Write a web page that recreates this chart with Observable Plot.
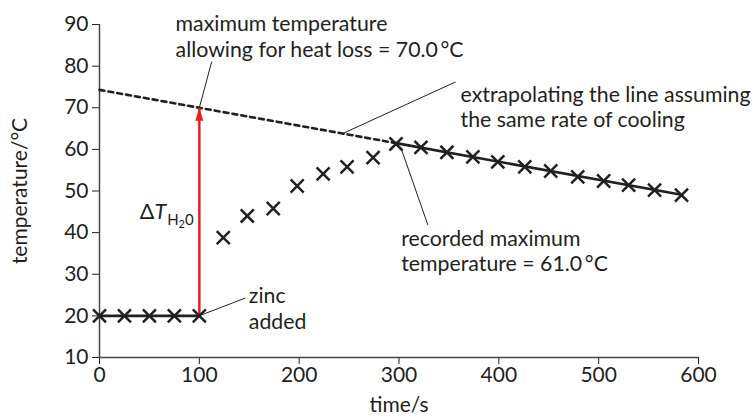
<!DOCTYPE html>
<html>
<head>
<meta charset="utf-8">
<script src="https://cdn.jsdelivr.net/npm/d3@7"></script>
<script src="https://cdn.jsdelivr.net/npm/@observablehq/plot@0.6"></script>
<style>
  html, body { margin: 0; padding: 0; background: #fff; }
</style>
</head>
<body>
<div id="chart"></div>
<script>
// measured readings (time in s, temperature in °C)
const times = [0, 25, 50, 75, 100, 124, 148, 174, 198, 224, 248, 274, 297, 322, 348, 374, 399, 426, 452, 479, 505, 530, 556, 583];
const temps = [20, 20, 20, 20, 20, 38.8, 44, 45.8, 51.2, 54.1, 55.8, 58, 61.3, 60.5, 59.3, 58.2, 57, 55.8, 54.8, 53.4, 52.4, 51.4, 50.2, 49];

// initial steady line
const baseTimes = [0, 100];
const baseTemps = [20, 20];
// extrapolated (dashed) cooling line
const extrapTimes = [0, 297];
const extrapTemps = [74.3, 61.5];
// fitted cooling line (solid)
const coolTimes = [297, 583];
const coolTemps = [61.5, 49.1];

// ΔT arrow
const arrowTime = 100;
const arrowFrom = 20;
const arrowTo = 70;

// tick values
const xTicks = [0, 100, 200, 300, 400, 500, 600];
const yTicks = [10, 20, 30, 40, 50, 60, 70, 80, 90];

// annotations
const noteTexts = [
  "maximum temperature\nallowing for heat loss = 70.0\u2009°C",
  "extrapolating the line assuming\nthe same rate of cooling",
  "recorded maximum\ntemperature = 61.0\u2009°C",
  "zinc\nadded"
];
const noteX = [76.2, 361.7, 302.2, 149.6];
const noteY = [87.3, 70.3, 35.7, 21.9];

// leader lines
const leadX1 = [100, 243.5, 302.2, 102.9];
const leadY1 = [70, 63.8, 60.2, 20.3];
const leadX2 = [112.4, 356.7, 329, 146.3];
const leadY2 = [81.1, 76.2, 41.8, 24.3];

const dtLabelX = 40.4;
const dtLabelY = 44.9;

const ink = "#231f20";
const red = "#ed1c24";

const points = times.map((t, i) => ({t, T: temps[i]}));
const base = baseTimes.map((t, i) => ({t, T: baseTemps[i]}));
const extrap = extrapTimes.map((t, i) => ({t, T: extrapTemps[i]}));
const cool = coolTimes.map((t, i) => ({t, T: coolTemps[i]}));
const notes = noteTexts.map((s, i) => ({s, t: noteX[i], T: noteY[i]}));
const leads = leadX1.map((x, i) => ({x1: x, y1: leadY1[i], x2: leadX2[i], y2: leadY2[i]}));

const chart = Plot.plot({
  width: 754,
  height: 419,
  marginLeft: 99,
  marginRight: 56,
  marginTop: 24,
  marginBottom: 62,
  style: {fontFamily: "Lato, sans-serif", fontSize: "21px", color: ink, background: "#fff"},
  x: {domain: [0, 600], ticks: xTicks, label: null, tickSize: 7, tickPadding: 3},
  y: {domain: [10, 90], ticks: yTicks, label: null, tickSize: 7, tickPadding: 4},
  marks: [
    Plot.ruleY([10], {stroke: "#444", strokeWidth: 1.5}),
    Plot.ruleX([0], {stroke: "#444", strokeWidth: 1.5}),
    Plot.line(extrap, {x: "t", y: "T", stroke: ink, strokeWidth: 2.6, strokeDasharray: "5,4"}),
    Plot.line(cool, {x: "t", y: "T", stroke: ink, strokeWidth: 2.6}),
    Plot.line(base, {x: "t", y: "T", stroke: ink, strokeWidth: 2.6}),
    Plot.link([{x: arrowTime, y1: arrowFrom, y2: arrowTo}], {x: "x", y1: "y1", y2: "y2", stroke: red, strokeWidth: 2.5}),
    Plot.vector([{x: arrowTime, y: arrowTo}], {x: "x", y: "y", length: 13, rotate: 0, shape: "spike", anchor: "end", r: 4, fill: red, stroke: "none"}),
    Plot.dot(points, {x: "t", y: "T", symbol: "times", r: 6, stroke: ink, strokeWidth: 2.5}),
    Plot.link(leads, {x1: "x1", y1: "y1", x2: "x2", y2: "y2", stroke: ink, strokeWidth: 1}),
    Plot.text(notes, {x: "t", y: "T", text: "s", textAnchor: "start", lineAnchor: "middle", lineHeight: 1.2, fontSize: 21.3, fill: ink}),
    Plot.text(["ΔT"], {x: () => dtLabelX, y: () => dtLabelY, text: d => d, textAnchor: "start", fontSize: 21.5, fill: ink}),
    Plot.text(["time/s"], {frameAnchor: "bottom", textAnchor: "middle", dy: 54, fontSize: 21, fill: ink}),
    Plot.text(["temperature/°C"], {frameAnchor: "left", textAnchor: "middle", dx: -79, rotate: -90, fontSize: 21, fill: ink})
  ]
});

// style the ΔT label with italic T and subscript H₂0
d3.select(chart).selectAll("text").filter(function() { return this.textContent === "ΔT"; }).each(function() {
  const el = d3.select(this);
  el.text(null);
  el.append("tspan").text("Δ");
  el.append("tspan").attr("font-style", "italic").text("T");
  el.append("tspan").attr("font-size", 15).attr("dy", 6).attr("dx", 1).text("H");
  el.append("tspan").attr("font-size", 11).attr("dy", 3).text("2");
  el.append("tspan").attr("font-size", 15).attr("dy", -3).text("0");
});

document.getElementById("chart").appendChild(chart);
</script>
</body>
</html>
